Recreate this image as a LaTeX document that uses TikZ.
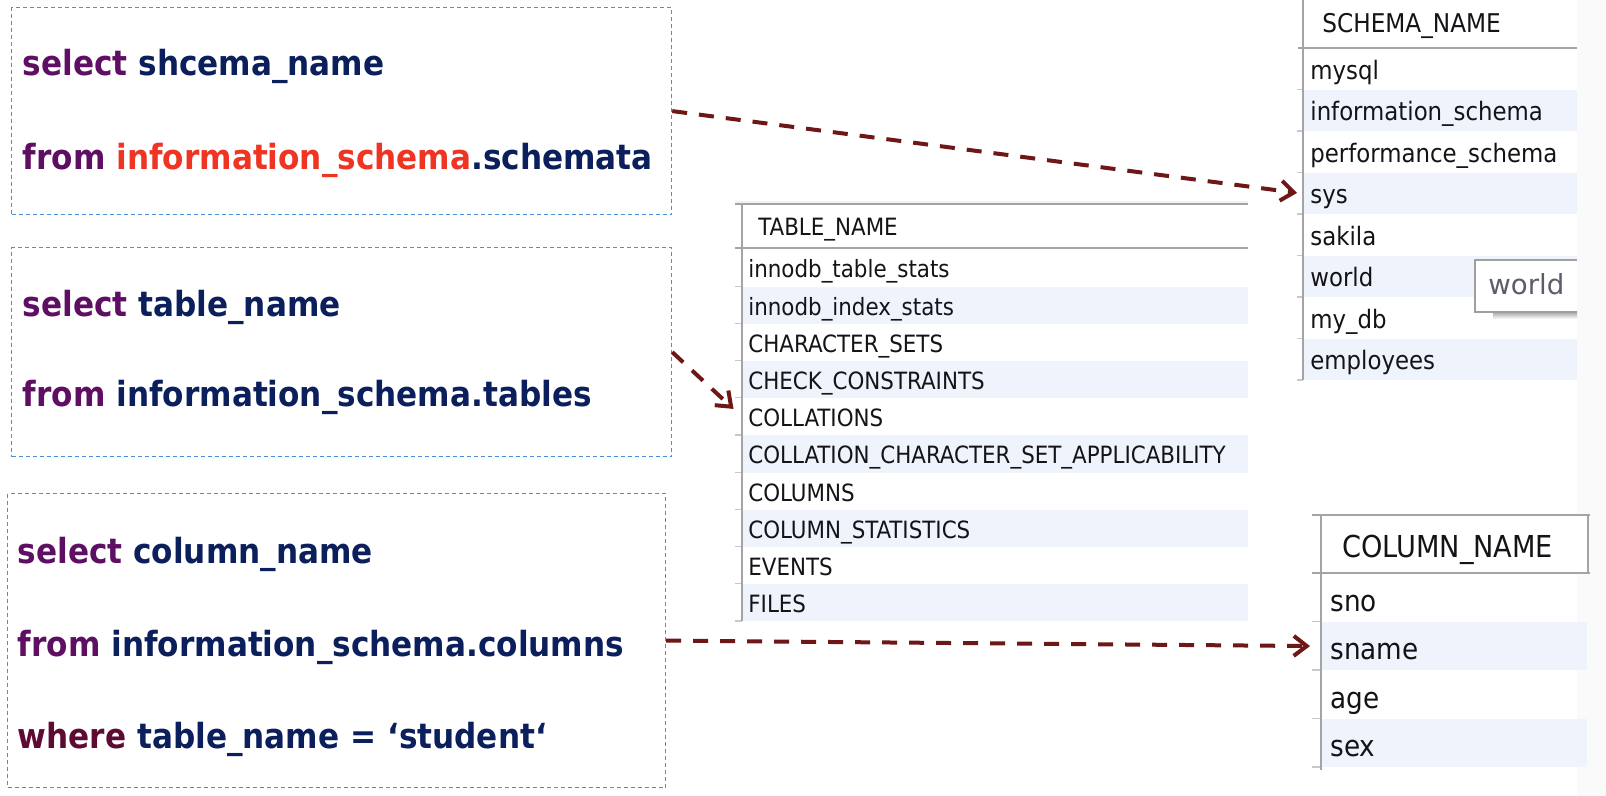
\documentclass[tikz,border=0pt]{standalone}
\usepackage{fontspec}
\usetikzlibrary{arrows.meta}
\newfontfamily\sqlfont{DejaVu Sans Condensed Bold}
\newfontfamily\gridfont{DejaVu Sans Condensed}
\newfontfamily\tipfont{DejaVu Sans}
\definecolor{kwpurple}{HTML}{5F0F63}
\definecolor{idnavy}{HTML}{0B1F5C}
\definecolor{hlred}{HTML}{EE3524}
\definecolor{kwwhere}{HTML}{5E0B34}
\definecolor{boxblue}{HTML}{4A8FD8}
\definecolor{arrowred}{HTML}{6E1717}
\definecolor{rowshade}{HTML}{EEF3FC}
\definecolor{gridline}{HTML}{A4A4A4}
\definecolor{gridtext}{HTML}{141418}
\definecolor{tiptext}{HTML}{5C5C6C}
\newcommand\sqlkw[1]{\textcolor{kwpurple}{#1}}
\newcommand\sqlid[1]{\textcolor{idnavy}{#1}}
\newcommand\sqlhl[1]{\textcolor{hlred}{#1}}
\newcommand\sqlwh[1]{\textcolor{kwwhere}{#1}}
\begin{document}
\begin{tikzpicture}[x=0.5pt,y=-0.5pt,
  qbox/.style={draw=boxblue, line width=0.6pt, dash pattern=on 2pt off 1.5pt,
    rectangle, inner sep=0pt, anchor=north west},
  sqlline/.style={anchor=base west, inner sep=0pt,
    font=\sqlfont\fontsize{17.3pt}{20pt}\selectfont},
  link/.style={draw=arrowred, line width=2pt, dash pattern=on 7.5pt off 6pt,
    -{Straight Barb[length=6.5pt,width=10pt]}},
  rule/.style={draw=gridline, line width=1pt},
  tick/.style={draw=gridline!60, line width=0.6pt},
  plainrow/.style={},
  shaderow/.style={fill=rowshade},
  gridrow/.style={rectangle, anchor=north west, inner ysep=0pt, align=left, text=gridtext},
  onerow/.style={gridrow, inner xsep=3.5pt, text width=130pt, minimum height=20.75pt,
    text height=12.3pt, text depth=2pt, font=\gridfont\fontsize{12.7pt}{15pt}\selectfont},
  tworow/.style={gridrow, inner xsep=3pt, text width=247pt, minimum height=18.6pt,
    text height=12pt, text depth=2pt, font=\gridfont\fontsize{11.9pt}{14pt}\selectfont},
  threerow/.style={gridrow, inner xsep=4.5pt, text width=124pt, minimum height=24.25pt,
    text height=15.75pt, text depth=2pt, font=\gridfont\fontsize{14.6pt}{17pt}\selectfont},
  headtext/.style={anchor=base west, inner sep=0pt, text=gridtext}
]
\useasboundingbox (0,0) rectangle (1606,796);
\fill[white] (0,0) rectangle (1606,796);
\fill[gray!4] (1577,0) rectangle (1606,796);

% ---------- query boxes ----------
\node[qbox, minimum width=330pt, minimum height=103.5pt] (q1) at (11,7) {};
\node[qbox, minimum width=330pt, minimum height=104.5pt] (q2) at (11,247) {};
\node[qbox, minimum width=329pt, minimum height=147pt] (q3) at (7,493) {};

\node[sqlline] (q1a) at (22.5,76) {\sqlkw{select} \sqlid{shcema\_name}};
\node[sqlline] (q1b) at (22.5,170) {\sqlkw{from} \sqlhl{information\_schema}\sqlid{.schemata}};
\node[sqlline] (q2a) at (22.5,317) {\sqlkw{select} \sqlid{table\_name}};
\node[sqlline] (q2b) at (22.5,407) {\sqlkw{from} \sqlid{information\_schema.tables}};
\node[sqlline] (q3a) at (17.5,563) {\sqlkw{select} \sqlid{column\_name}};
\node[sqlline] (q3b) at (17.5,656) {\sqlkw{from} \sqlid{information\_schema.columns}};
\node[sqlline] (q3c) at (17.5,748) {\sqlwh{where} \sqlid{table\_name = ‘student‘}};

% ---------- SCHEMA_NAME grid ----------
\foreach \txt [count=\i from 0] in {mysql,information\_schema,performance\_schema,sys,sakila,world,my\_db,employees}{
  \ifodd\i\def\rs{shaderow}\else\def\rs{plainrow}\fi
  \node[onerow,\rs] (s\i) at (1303,{48+41.5*\i}) {\txt};
  \draw[tick] (1297,{89.5+41.5*\i}) -- (1303,{89.5+41.5*\i});
}
\draw[rule] (1303,0) -- (1303,380);
\draw[rule] (1298,48) -- (1577,48);
\node[headtext, font=\gridfont\fontsize{12.9pt}{15pt}\selectfont] (sh) at (1322,33) {SCHEMA\_NAME};

% tooltip over the grid
\shade[top color=gray!70, bottom color=white] (1493,312) rectangle (1577,319);
\filldraw[fill=white, draw=gray!75, line width=0.6pt] (1577,260) -- (1475,260) -- (1475,312) -- (1577,312);
\node[anchor=base west, inner sep=0pt, text=tiptext, font=\tipfont\fontsize{13.8pt}{16pt}\selectfont] (tip) at (1488,295) {world};

% ---------- TABLE_NAME grid ----------
\foreach \txt [count=\i from 0] in {innodb\_table\_stats,innodb\_index\_stats,CHARACTER\_SETS,CHECK\_CONSTRAINTS,COLLATIONS,COLLATION\_CHARACTER\_SET\_APPLICABILITY,COLUMNS,COLUMN\_STATISTICS,EVENTS,FILES}{
  \ifodd\i\def\rs{shaderow}\else\def\rs{plainrow}\fi
  \node[tworow,\rs] (t\i) at (742,{249+37.2*\i}) {\txt};
  \draw[tick] (735,{286.2+37.2*\i}) -- (742,{286.2+37.2*\i});
}
\draw[draw=gray!10, line width=1pt] (735,202) -- (1248,202);
\draw[rule] (735,204) -- (1248,204);
\draw[rule] (742,204) -- (742,621);
\draw[rule] (735,248) -- (1248,248);
\node[headtext, font=\gridfont\fontsize{11.9pt}{14pt}\selectfont] (th) at (758,236) {TABLE\_NAME};

% ---------- COLUMN_NAME grid ----------
\fill[white] (1321,515) rectangle (1588,573);
\foreach \txt [count=\i from 0] in {sno,sname,age,sex}{
  \ifodd\i\def\rs{shaderow}\else\def\rs{plainrow}\fi
  \node[threerow,\rs] (c\i) at (1321,{573+48.5*\i}) {\txt};
  \draw[tick] (1312,{621.5+48.5*\i}) -- (1321,{621.5+48.5*\i});
}
\draw[rule] (1312,515) -- (1590,515);
\draw[rule] (1321,515) -- (1321,770);
\draw[rule] (1588,515) -- (1588,573);
\draw[rule] (1312,573) -- (1590,573);
\node[headtext, font=\gridfont\fontsize{15.1pt}{18pt}\selectfont] (ch) at (1342,557) {COLUMN\_NAME};

% ---------- links from queries to results ----------
\draw[link, shorten >=3pt] (q1.east) -- (s3.west);
\draw[link, shorten >=5.8pt] (q2.east) -- (t4.west);
\draw[link, shorten >=5.5pt] (q3.east) -- (c1.west);
\end{tikzpicture}
\end{document}
